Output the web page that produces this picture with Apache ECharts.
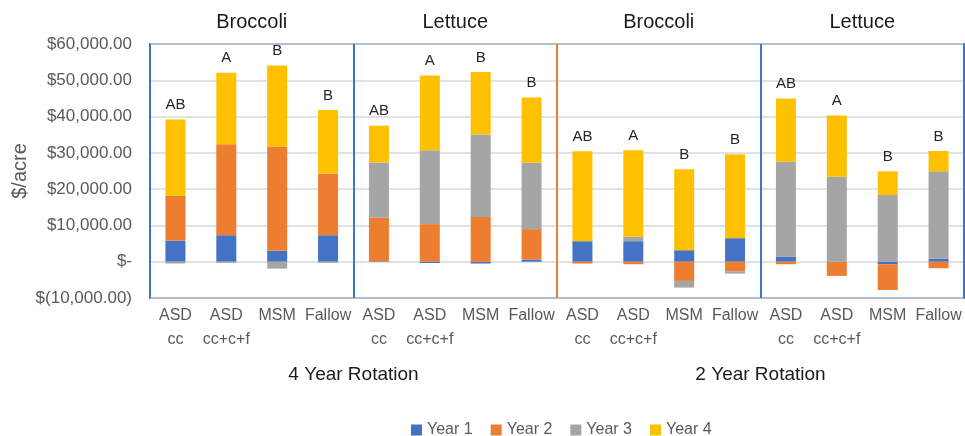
<!DOCTYPE html>
<html>
<head>
<meta charset="utf-8">
<script src="https://cdn.jsdelivr.net/npm/echarts@6/dist/echarts.min.js"></script>
<style>
html,body{margin:0;padding:0;background:#fff;}
#chart{width:965px;height:436px;}
</style>
</head>
<body>
<div id="chart"></div>
<script>
// ---- data ----
const categories = [
  'ASD\ncc', 'ASD\ncc+c+f', 'MSM', 'Fallow',
  'ASD\ncc', 'ASD\ncc+c+f', 'MSM', 'Fallow',
  'ASD\ncc', 'ASD\ncc+c+f', 'MSM', 'Fallow',
  'ASD\ncc', 'ASD\ncc+c+f', 'MSM', 'Fallow'
];
const crops = ['Broccoli', 'Lettuce', 'Broccoli', 'Lettuce'];
const rotations = ['4 Year Rotation', '2 Year Rotation'];
const seriesNames = ['Year 1', 'Year 2', 'Year 3', 'Year 4'];
const year1 = [5750, 7300, 3000, 7300,   150, -350, -500, 600,    5660, 5660, 3180, 6490,    1430, 0, -700, 870];
const year2 = [12430, 25050, 28720, 17040,   12000, 10360, 12290, 8380,   -500, -700, -5300, -2620,   -700, -3900, -7100, -1800];
const year3 = [-500, -300, -1900, -300,   15200, 20360, 22740, 18320,   0, 1200, -1830, -650,   26140, 23430, 18370, 24040];
const year4 = [20990, 19700, 22370, 17490,   10130, 20610, 17230, 17950,   24780, 23860, 22290, 23120,   17400, 16860, 6540, 5610];
const letters = ['AB', 'A', 'B', 'B',  'AB', 'A', 'B', 'B',  'AB', 'A', 'B', 'B',  'AB', 'A', 'B', 'B'];
const yMin = -10000, yMax = 60000, yStep = 10000;

// ---- chart ----
const FONT = "'Liberation Sans', Arial, sans-serif";
const colors = ['#4472C4', '#ED7D31', '#A5A5A5', '#FFC000'];
const values = [year1, year2, year3, year4];

function money(v) {
  if (v === 0) return '$-';
  const s = Math.abs(v).toLocaleString('en-US', {minimumFractionDigits: 2, maximumFractionDigits: 2});
  return v < 0 ? '$(' + s + ')' : '$' + s;
}

const chart = echarts.init(document.getElementById('chart'), null, {renderer: 'canvas'});
const series = seriesNames.map((name, i) => {
  const s = {
    name: name,
    type: 'bar',
    stack: 'total',
    xAxisIndex: 0,
    yAxisIndex: 0,
    barWidth: 20,
    data: values[i],
    itemStyle: {color: colors[i]},
    emphasis: {disabled: true}
  };
  if (i === 3) {
    s.label = {
      show: true,
      position: 'top',
      distance: 7,
      fontFamily: FONT,
      fontSize: 15,
      color: '#262626',
      formatter: p => letters[p.dataIndex]
    };
  }
  return s;
});

chart.setOption({
  animation: false,
  color: colors,
  textStyle: {fontFamily: FONT},
  grid: {
    left: 150, right: 1, top: 44, bottom: 138,
    containLabel: false, outerBoundsMode: 'none',
    show: true, borderColor: '#4472C4', borderWidth: 2, backgroundColor: 'transparent'
  },
  legend: {
    data: seriesNames,
    left: 406, top: 417,
    icon: 'rect', itemWidth: 11, itemHeight: 11, itemGap: 18,
    textStyle: {fontFamily: FONT, fontSize: 16, color: '#595959'}
  },
  xAxis: [
    {
      type: 'category', position: 'bottom', data: categories,
      axisLine: {show: false}, axisTick: {show: false}, splitLine: {show: false},
      axisLabel: {
        interval: 0, margin: 6,
        fontFamily: FONT, fontSize: 16, color: '#595959', lineHeight: 24
      }
    },
    {
      type: 'category', position: 'top', data: crops,
      axisLine: {show: false}, axisTick: {show: false},
      splitLine: {
        show: true, interval: 0,
        lineStyle: {color: ['#4472C4', '#4472C4', '#ED7D31', '#4472C4', '#4472C4'], width: 2}
      },
      axisLabel: {interval: 0, margin: 12, fontFamily: FONT, fontSize: 20, color: '#1a1a1a'}
    },
    {
      type: 'category', position: 'bottom', data: rotations,
      axisLine: {show: false}, axisTick: {show: false}, splitLine: {show: false},
      axisLabel: {interval: 0, margin: 67, fontFamily: FONT, fontSize: 19, color: '#1a1a1a'}
    }
  ],
  yAxis: {
    type: 'value', min: yMin, max: yMax, interval: yStep,
    name: '$/acre', nameLocation: 'middle', nameGap: 120, nameMoveOverlap: false,
    nameTextStyle: {fontFamily: FONT, fontSize: 20, color: '#595959'},
    axisLine: {show: false}, axisTick: {show: false},
    splitLine: {show: true, lineStyle: {color: '#D9D9D9', width: 1.5}},
    axisLabel: {margin: 18, fontFamily: FONT, fontSize: 17, color: '#595959', formatter: money}
  },
  series: series
});
</script>
</body>
</html>
